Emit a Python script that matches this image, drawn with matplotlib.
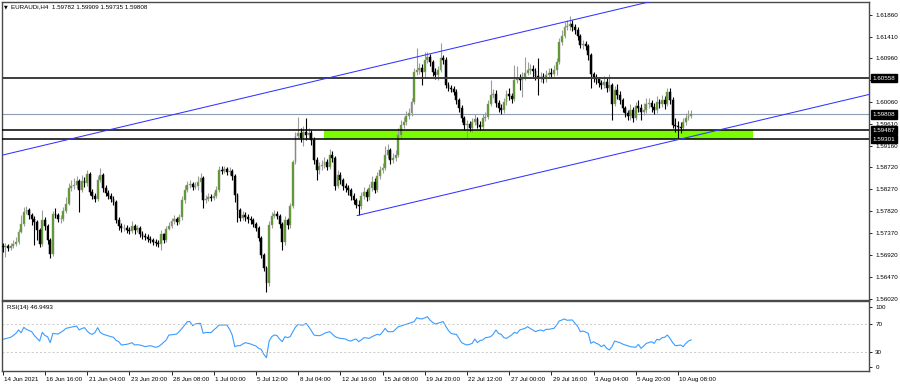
import numpy as np
import matplotlib
matplotlib.use("Agg")
import matplotlib.pyplot as plt
import matplotlib.transforms as mtransforms
from matplotlib.patches import Rectangle

plt.rcParams['font.family'] = ['Liberation Sans', 'DejaVu Sans']

# ---- data (EURAUD H4) ----
symbol_title = "EURAUDi,H4  1.59782 1.59909 1.59735 1.59808"
rsi_title = "RSI(14) 46.9493"

first_open = 1.5710
closes = [
    1.5708, 1.5710, 1.5706, 1.5710, 1.5714, 1.5719, 1.5739, 1.5756, 1.5780, 1.5784,
    1.5774, 1.5766, 1.5760, 1.5743, 1.5714, 1.5764, 1.5752, 1.5723, 1.5694, 1.5776,
    1.5774, 1.5766, 1.5766, 1.5782, 1.5797, 1.5830, 1.5834, 1.5836, 1.5844, 1.5826,
    1.5844, 1.5840, 1.5858, 1.5821, 1.5813, 1.5807, 1.5846, 1.5856, 1.5830, 1.5819,
    1.5813, 1.5807, 1.5801, 1.5764, 1.5752, 1.5747, 1.5747, 1.5743, 1.5741, 1.5752,
    1.5743, 1.5747, 1.5735, 1.5731, 1.5729, 1.5725, 1.5723, 1.5719, 1.5717, 1.5714,
    1.5735, 1.5723, 1.5745, 1.5752, 1.5762, 1.5766, 1.5760, 1.5770, 1.5805, 1.5826,
    1.5836, 1.5838, 1.5832, 1.5834, 1.5842, 1.5850, 1.5805, 1.5807, 1.5811, 1.5809,
    1.5813, 1.5826, 1.5867, 1.5865, 1.5869, 1.5863, 1.5865, 1.5854, 1.5815, 1.5784,
    1.5768, 1.5774, 1.5770, 1.5766, 1.5764, 1.5756, 1.5747, 1.5727, 1.5692, 1.5665,
    1.5634, 1.5754, 1.5772, 1.5776, 1.5772, 1.5756, 1.5719, 1.5764, 1.5754, 1.5793,
    1.5883, 1.5937, 1.5943, 1.5933, 1.5945, 1.5939, 1.5943, 1.5928, 1.5887, 1.5867,
    1.5875, 1.5877, 1.5883, 1.5873, 1.5898, 1.5891, 1.5834, 1.5856, 1.5846, 1.5834,
    1.5830, 1.5826, 1.5813, 1.5805, 1.5795, 1.5793, 1.5813, 1.5821, 1.5811, 1.5830,
    1.5842, 1.5826, 1.5854, 1.5867, 1.5871, 1.5898, 1.5908, 1.5887, 1.5891, 1.5898,
    1.5939, 1.5959, 1.5965, 1.5978, 1.5984, 1.6007, 1.6068, 1.6072, 1.6076, 1.6068,
    1.6093, 1.6099, 1.6089, 1.6068, 1.6062, 1.6072, 1.6097, 1.6093, 1.6041, 1.6035,
    1.6033, 1.6027, 1.6011, 1.5994, 1.5974, 1.5959, 1.5961, 1.5953, 1.5965, 1.5972,
    1.5959, 1.5955, 1.5974, 1.5976, 1.6002, 1.6021, 1.6023, 1.6004, 1.5994, 1.5990,
    1.6007, 1.6023, 1.6019, 1.6013, 1.6052, 1.6056, 1.6052, 1.6058, 1.6066, 1.6072,
    1.6074, 1.6070, 1.6060, 1.6056, 1.6058, 1.6054, 1.6062, 1.6066, 1.6064, 1.6072,
    1.6089, 1.6130, 1.6142, 1.6161, 1.6163, 1.6167, 1.6161, 1.6155, 1.6142, 1.6124,
    1.6126, 1.6122, 1.6103, 1.6064, 1.6058, 1.6054, 1.6046, 1.6041, 1.6048, 1.6035,
    1.6041, 1.6002, 1.6031, 1.6021, 1.6011, 1.5994, 1.5984, 1.5978, 1.5990, 1.5974,
    1.5998, 1.5994, 1.5986, 1.5990, 1.6002, 1.6004, 1.5996, 1.5990, 1.6007, 1.6002,
    1.6011, 1.6002, 1.6027, 1.6011, 1.5959, 1.5957, 1.5955, 1.5953, 1.5965, 1.5974,
    1.59782, 1.59808,
]
highs = [
    1.5717, 1.5717, 1.5715, 1.5717, 1.5723, 1.5729, 1.5745, 1.5774, 1.5791, 1.5793,
    1.5789, 1.5778, 1.5772, 1.5764, 1.5747, 1.5784, 1.5770, 1.5756, 1.5727, 1.5782,
    1.5789, 1.5778, 1.5774, 1.5791, 1.5811, 1.5840, 1.5846, 1.5850, 1.5854, 1.5848,
    1.5856, 1.5852, 1.5867, 1.5863, 1.5828, 1.5819, 1.5854, 1.5870, 1.5860, 1.5836,
    1.5826, 1.5819, 1.5813, 1.5805, 1.5770, 1.5758, 1.5756, 1.5754, 1.5749, 1.5762,
    1.5756, 1.5754, 1.5752, 1.5741, 1.5737, 1.5735, 1.5731, 1.5727, 1.5725, 1.5723,
    1.5743, 1.5737, 1.5752, 1.5760, 1.5768, 1.5774, 1.5770, 1.5776, 1.5813, 1.5836,
    1.5844, 1.5846, 1.5842, 1.5842, 1.5854, 1.5860, 1.5854, 1.5815, 1.5819, 1.5817,
    1.5821, 1.5834, 1.5875, 1.5875, 1.5875, 1.5873, 1.5873, 1.5869, 1.5858, 1.5819,
    1.5789, 1.5782, 1.5780, 1.5776, 1.5772, 1.5768, 1.5760, 1.5752, 1.5731, 1.5696,
    1.5669, 1.5762, 1.5780, 1.5784, 1.5782, 1.5776, 1.5760, 1.5772, 1.5768, 1.5799,
    1.5887, 1.5945, 1.5976, 1.5953, 1.5957, 1.5974, 1.5953, 1.5949, 1.5935, 1.5893,
    1.5883, 1.5887, 1.5893, 1.5889, 1.5910, 1.5906, 1.5895, 1.5867, 1.5863, 1.5850,
    1.5840, 1.5836, 1.5830, 1.5819, 1.5809, 1.5805, 1.5821, 1.5832, 1.5828, 1.5838,
    1.5854, 1.5850, 1.5863, 1.5875, 1.5881, 1.5916, 1.5920, 1.5912, 1.5902, 1.5908,
    1.5953, 1.5970, 1.5976, 1.5988, 1.5994, 1.6015, 1.6076, 1.6117, 1.6087, 1.6085,
    1.6109, 1.6109, 1.6105, 1.6093, 1.6076, 1.6080, 1.6128, 1.6103, 1.6099, 1.6048,
    1.6041, 1.6039, 1.6033, 1.6015, 1.6000, 1.5978, 1.5970, 1.5967, 1.5974, 1.5982,
    1.5976, 1.5967, 1.5982, 1.5986, 1.6011, 1.6052, 1.6033, 1.6031, 1.6011, 1.6002,
    1.6015, 1.6031, 1.6035, 1.6025, 1.6083, 1.6080, 1.6064, 1.6068, 1.6099, 1.6089,
    1.6085, 1.6083, 1.6076, 1.6097, 1.6068, 1.6066, 1.6072, 1.6076, 1.6076, 1.6083,
    1.6097, 1.6138, 1.6155, 1.6171, 1.6175, 1.6183, 1.6175, 1.6167, 1.6161, 1.6146,
    1.6134, 1.6132, 1.6126, 1.6107, 1.6068, 1.6064, 1.6058, 1.6052, 1.6060, 1.6056,
    1.6064, 1.6046, 1.6039, 1.6044, 1.6029, 1.6015, 1.5998, 1.5990, 1.6002, 1.5996,
    1.6007, 1.6011, 1.6002, 1.6004, 1.6015, 1.6015, 1.6011, 1.6004, 1.6019, 1.6013,
    1.6021, 1.6019, 1.6035, 1.6035, 1.6017, 1.5974, 1.5967, 1.5965, 1.5974, 1.5984,
    1.5990, 1.59909,
]
lows = [
    1.5698, 1.5688, 1.5700, 1.5702, 1.5706, 1.5710, 1.5714, 1.5737, 1.5752, 1.5776,
    1.5766, 1.5754, 1.5712, 1.5723, 1.5708, 1.5710, 1.5743, 1.5714, 1.5686, 1.5690,
    1.5768, 1.5760, 1.5758, 1.5762, 1.5778, 1.5795, 1.5823, 1.5828, 1.5830, 1.5780,
    1.5821, 1.5832, 1.5834, 1.5815, 1.5807, 1.5801, 1.5803, 1.5842, 1.5821, 1.5813,
    1.5807, 1.5801, 1.5795, 1.5758, 1.5743, 1.5739, 1.5741, 1.5737, 1.5735, 1.5737,
    1.5735, 1.5739, 1.5729, 1.5725, 1.5723, 1.5719, 1.5717, 1.5712, 1.5710, 1.5708,
    1.5702, 1.5717, 1.5719, 1.5743, 1.5747, 1.5756, 1.5754, 1.5756, 1.5764, 1.5799,
    1.5821, 1.5830, 1.5826, 1.5828, 1.5826, 1.5821, 1.5789, 1.5799, 1.5803, 1.5803,
    1.5805, 1.5809, 1.5821, 1.5858, 1.5860, 1.5856, 1.5856, 1.5846, 1.5801, 1.5760,
    1.5762, 1.5764, 1.5762, 1.5758, 1.5756, 1.5749, 1.5741, 1.5721, 1.5686, 1.5659,
    1.5616, 1.5628, 1.5747, 1.5768, 1.5766, 1.5747, 1.5702, 1.5712, 1.5745, 1.5747,
    1.5789, 1.5879, 1.5933, 1.5924, 1.5916, 1.5928, 1.5933, 1.5918, 1.5879, 1.5846,
    1.5858, 1.5867, 1.5871, 1.5867, 1.5869, 1.5883, 1.5826, 1.5830, 1.5838, 1.5826,
    1.5821, 1.5815, 1.5805, 1.5797, 1.5789, 1.5774, 1.5786, 1.5807, 1.5803, 1.5805,
    1.5823, 1.5819, 1.5821, 1.5848, 1.5860, 1.5867, 1.5891, 1.5879, 1.5881, 1.5885,
    1.5893, 1.5933, 1.5953, 1.5959, 1.5972, 1.5978, 1.6002, 1.6062, 1.6064, 1.6041,
    1.6058, 1.6087, 1.6080, 1.6060, 1.6054, 1.6052, 1.6068, 1.6085, 1.6035, 1.6029,
    1.6027, 1.6021, 1.6002, 1.5986, 1.5965, 1.5949, 1.5933, 1.5947, 1.5945, 1.5959,
    1.5953, 1.5949, 1.5949, 1.5967, 1.5972, 1.5998, 1.6015, 1.5996, 1.5986, 1.5982,
    1.5984, 1.6000, 1.6011, 1.6004, 1.6009, 1.6046, 1.6031, 1.6017, 1.6052, 1.6062,
    1.6064, 1.6056, 1.6052, 1.6021, 1.6048, 1.6046, 1.6048, 1.6056, 1.6056, 1.6060,
    1.6062, 1.6085, 1.6124, 1.6138, 1.6155, 1.6155, 1.6152, 1.6146, 1.6134, 1.6117,
    1.6115, 1.6113, 1.6093, 1.6035, 1.6048, 1.6044, 1.6037, 1.6033, 1.6035, 1.6027,
    1.6029, 1.5970, 1.5998, 1.6013, 1.6002, 1.5986, 1.5976, 1.5970, 1.5970, 1.5965,
    1.5970, 1.5986, 1.5970, 1.5980, 1.5984, 1.5994, 1.5986, 1.5982, 1.5984, 1.5994,
    1.5996, 1.5992, 1.5998, 1.6002, 1.5953, 1.5945, 1.5933, 1.5943, 1.5947, 1.5959,
    1.5970, 1.59735,
]
rsi = [
    47.6, 48.5, 49.5, 50.5, 53.0, 56.0, 61.0, 57.0, 64.6, 61.8,
    60.0, 58.5, 53.0, 49.0, 45.2, 57.5, 53.0, 51.4, 42.9, 56.1,
    55.5, 55.2, 57.5, 60.0, 63.2, 64.0, 65.0, 65.6, 66.5, 60.9,
    63.0, 64.2, 59.4, 56.0, 54.7, 57.5, 64.2, 57.5, 55.0, 53.8,
    52.5, 51.4, 50.5, 46.0, 44.3, 39.6, 40.0, 40.5, 41.5, 42.9,
    39.6, 40.0, 39.6, 38.5, 37.2, 38.0, 38.6, 37.5, 36.3, 37.2,
    40.0, 43.4, 46.7, 53.8, 54.0, 54.5, 55.2, 59.0, 63.2, 68.0,
    72.7, 72.7, 67.0, 69.4, 70.0, 70.3, 56.1, 57.5, 57.3, 57.1,
    60.9, 64.0, 67.9, 67.9, 68.0, 67.9, 62.0, 53.8, 37.2, 38.6,
    38.6, 41.0, 42.9, 42.0, 41.0, 39.5, 38.2, 35.0, 33.4, 26.3,
    21.6, 45.0, 51.4, 53.8, 52.8, 48.0, 44.3, 51.4, 50.0, 51.4,
    58.5, 65.0, 68.9, 67.9, 67.9, 70.3, 65.6, 60.0, 53.8, 53.0,
    52.8, 54.0, 56.1, 57.5, 58.5, 55.0, 51.4, 50.0, 49.0, 48.5,
    48.1, 46.0, 45.2, 47.0, 48.1, 44.3, 47.0, 50.0, 49.5, 49.0,
    51.4, 53.0, 54.7, 53.8, 58.0, 63.2, 58.5, 58.5, 58.5, 62.0,
    65.6, 66.5, 67.9, 69.0, 70.3, 71.5, 72.7, 78.3, 77.0, 76.5,
    78.0, 79.8, 75.0, 71.7, 69.4, 70.5, 71.7, 72.7, 66.0, 60.0,
    56.1, 55.0, 54.7, 49.0, 42.9, 41.0, 39.6, 40.5, 41.9, 48.1,
    42.9, 46.0, 46.7, 50.0, 50.5, 51.4, 55.0, 60.9, 56.0, 54.7,
    50.0, 49.0, 51.4, 54.0, 57.5, 56.1, 60.9, 62.0, 63.2, 65.6,
    63.0, 60.9, 58.5, 60.0, 60.9, 59.4, 61.8, 61.8, 62.5, 63.2,
    67.9, 73.6, 75.0, 76.5, 74.6, 75.0, 75.0, 70.3, 66.0, 58.5,
    59.4, 58.0, 56.1, 41.9, 44.3, 42.0, 40.5, 37.2, 39.6, 35.0,
    32.5, 37.2, 45.2, 44.0, 42.9, 41.0, 39.6, 38.5, 37.2, 36.8,
    36.3, 40.5, 34.9, 38.0, 41.9, 43.0, 44.3, 41.9, 47.6, 46.7,
    50.0, 50.5, 53.8, 49.0, 43.0, 38.6, 39.0, 39.6, 37.2, 41.9,
    45.2, 46.9,
]

date_labels = ["14 Jun 2021", "16 Jun 16:00", "21 Jun 04:00", "23 Jun 20:00",
               "28 Jun 08:00", "1 Jul 00:00", "5 Jul 12:00", "8 Jul 04:00",
               "12 Jul 16:00", "15 Jul 08:00", "19 Jul 20:00", "22 Jul 12:00",
               "27 Jul 00:00", "29 Jul 16:00", "3 Aug 04:00", "5 Aug 20:00",
               "10 Aug 08:00"]
bars_per_label = 16

price_ticks = [1.56020, 1.56470, 1.56920, 1.57370, 1.57820, 1.58270, 1.58720,
               1.59160, 1.59610, 1.60060, 1.60510, 1.60960, 1.61410, 1.61860]
hidden_ticks = [1.60510]   # covered by the 1.60558 level tag

level_resistance = 1.60558
level_bid = 1.59808
zone_top = 1.59487
zone_bottom = 1.59301
zone_bars = [122.0, 284.3]

upper_line_x = [-0.3, 262.0]
upper_line_y = [1.5897, 1.6234]
lower_line_x = [134.4, 328.5]
lower_line_y = [1.5773, 1.6022]

# ---- styling ----
BULL_BODY = "#4f9a12"
BULL_WICK = "#9c9c9c"
BEAR = "#000000"
FRAME = "#4a4a4a"
FS = 4.5

W, H = 900, 386
fig = plt.figure(figsize=(W / 100, H / 100), dpi=100)
ax = fig.add_axes([2 / W, (H - 300) / H, 867 / W, 298 / H])
ax_r = fig.add_axes([2 / W, (H - 371) / H, 867 / W, 70 / H])

x_left, x_right = -0.27, 328.45
ax.set_xlim(x_left, x_right)
ax.set_ylim(1.55993, 1.62121)

opens = [first_open] + closes[:-1]   # gapless FX candles: open = previous close
o = np.array(opens)
c = np.array(closes)
h = np.array(highs)
l = np.array(lows)
x = np.arange(len(c))
up = c >= o

# support zone and levels
ax.add_patch(Rectangle((zone_bars[0], zone_bottom), zone_bars[1] - zone_bars[0],
                       zone_top - zone_bottom, facecolor="#7cfc00", edgecolor="none", zorder=1))
ax.axhline(level_bid, color="#8e9cb3", lw=0.8, zorder=2)

# candles
ax.vlines(x[up], l[up], h[up], color=BULL_WICK, lw=0.8, zorder=3)
ax.vlines(x[~up], l[~up], h[~up], color=BEAR, lw=0.8, zorder=3)
body_lo = np.minimum(o, c)
body_h = np.maximum(np.abs(c - o), 0.00004)
ax.bar(x[up], body_h[up], bottom=body_lo[up], width=0.72, color=BULL_BODY,
       edgecolor=BULL_WICK, linewidth=0.35, zorder=3.2)
ax.bar(x[~up], body_h[~up], bottom=body_lo[~up], width=0.72, color=BEAR,
       edgecolor=BEAR, linewidth=0.35, zorder=3.2)

ax.axhline(level_resistance, color="#3c3c3c", lw=1.4, zorder=4)
ax.axhline(zone_top, color="black", lw=1.1, zorder=4)
ax.axhline(zone_bottom, color="black", lw=1.1, zorder=4)

ax.plot(upper_line_x, upper_line_y, color="#3434ff", lw=0.75, zorder=5)
ax.plot(lower_line_x, lower_line_y, color="#3434ff", lw=0.75, zorder=5)

# price axis on the right
ax.yaxis.tick_right()
ax.set_yticks(price_ticks)
ax.set_yticklabels(["" if p in hidden_ticks else f"{p:.5f}" for p in price_ticks])
ax.tick_params(axis="y", length=2.5, width=0.6, pad=2, labelsize=FS, colors="black")
ax.set_xticks([])

tr = mtransforms.blended_transform_factory(ax.transAxes, ax.transData)
for lvl in [level_resistance, level_bid, zone_top, zone_bottom]:
    ax.text(1.0045, lvl, f"{lvl:.5f}", transform=tr, fontsize=FS, color="white",
            va="center", ha="left", clip_on=False, zorder=10,
            bbox=dict(boxstyle="square,pad=0.28", fc="black", ec="black"))

for sp in ax.spines.values():
    sp.set_color(FRAME)
    sp.set_linewidth(1.0)

fig.text(4 / W, 1 - 7 / H, "\u25bc", fontsize=3.5, va="center", ha="left",
         family=["DejaVu Sans"])
fig.text(11 / W, 1 - 7 / H, symbol_title, fontsize=FS, va="center", ha="left")

# RSI panel
ax_r.set_xlim(x_left, x_right)
ax_r.set_ylim(2.7, 102.0)
ax_r.plot(x, rsi, color="#3a9cff", lw=0.8)
for lvl in [70, 30]:
    ax_r.axhline(lvl, color="#c4c4c4", lw=0.6, ls=(0, (2.5, 2.5)))
ax_r.yaxis.tick_right()
ax_r.set_yticks([93.9, 70, 30, 7.9])
ax_r.set_yticklabels(["100", "70", "30", "0"])
ax_r.tick_params(axis="y", length=2.5, width=0.6, pad=2, labelsize=FS)
ax_r.text(5 / 867, 1 - 7 / 70, rsi_title, transform=ax_r.transAxes,
          fontsize=FS, va="center", ha="left")

ticks = [i * bars_per_label for i in range(len(date_labels))]
ax_r.set_xticks(ticks)
ax_r.set_xticklabels(date_labels)
ax_r.tick_params(axis="x", length=3, width=0.6, pad=1, labelsize=FS)
offset = mtransforms.ScaledTranslation(1.5 / 100, 0, fig.dpi_scale_trans)
for lbl in ax_r.get_xticklabels():
    lbl.set_ha("left")
    lbl.set_transform(lbl.get_transform() + offset)
for sp in ax_r.spines.values():
    sp.set_color(FRAME)
    sp.set_linewidth(1.0)

fig.savefig("out.png", dpi=100, facecolor="white")
